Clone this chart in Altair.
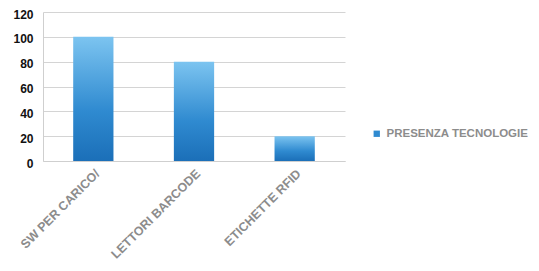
import altair as alt
import pandas as pd

categories = ["SW PER CARICO/", "LETTORI BARCODE", "ETICHETTE RFID"]
values = [100, 80, 20]
series = ["PRESENZA TECNOLOGIE"] * 3

df = pd.DataFrame({"cat": categories, "val": values, "series": series})

grad = alt.Gradient(
    gradient="linear",
    stops=[alt.GradientStop(color="#7cc4f0", offset=0),
           alt.GradientStop(color="#2f8ad0", offset=0.6),
           alt.GradientStop(color="#1b6fb8", offset=1)],
    x1=0, x2=0, y1=0, y2=1,
)

bars = alt.Chart(df).mark_bar(fill=grad).encode(
    x=alt.X("cat:N", sort=categories, title=None,
            scale=alt.Scale(paddingInner=0.6, paddingOuter=0.3),
            axis=alt.Axis(labelAngle=-45, labelColor="#8c8c8c", labelFont="Liberation Sans",
                          labelFontSize=12.5, labelFontWeight="bold", ticks=False,
                          domainColor="#cfcfcf", labelPadding=6)),
    y=alt.Y("val:Q", title=None,
            scale=alt.Scale(domain=[0, 120]),
            axis=alt.Axis(values=[0, 20, 40, 60, 80, 100, 120], labelColor="#111111",
                          labelFont="Liberation Sans", labelFontSize=12, labelFontWeight="bold",
                          ticks=False, domainColor="#cfcfcf", gridColor="#d4d4d4",
                          labelPadding=10, labelOffset=2)),
    color=alt.Color("series:N", title=None,
                    scale=alt.Scale(range=["#2f8ad0"]),
                    legend=alt.Legend(orient="none", legendX=328, legendY=116,
                                      symbolType="square", symbolSize=40,
                                      labelColor="#8c8c8c", labelFont="Liberation Sans",
                                      labelFontSize=11.5, labelFontWeight="bold")),
)

chart = bars.properties(
    width=302, height=149,
    padding={"left": 35, "top": 4, "right": 186, "bottom": 102},
    autosize=alt.AutoSizeParams(type="none"),
).configure_view(stroke=None)

chart.save("out.html", embed_options={"renderer": "svg", "actions": False})
